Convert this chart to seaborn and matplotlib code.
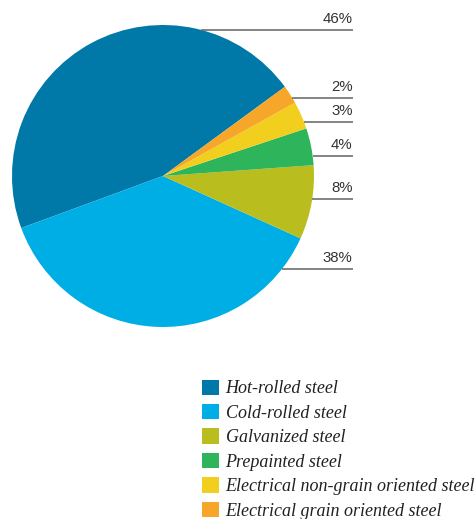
import matplotlib
matplotlib.use("Agg")
import matplotlib.pyplot as plt
import seaborn as sns
import numpy as np

categories = [
    "Hot-rolled steel",
    "Cold-rolled steel",
    "Galvanized steel",
    "Prepainted steel",
    "Electrical non-grain oriented steel",
    "Electrical grain oriented steel",
]
shares = [46, 38, 8, 4, 3, 2]
pct_labels = ["46%", "38%", "8%", "4%", "3%", "2%"]
colors = ["#0078A8", "#00AEE6", "#B9BD1E", "#2EB45A", "#F2CF1F", "#F6A628"]
# heights of the leader lines for each label (pie radius = 1)
label_heights = [0.967, -0.616, -0.154, 0.134, 0.358, 0.519]

sns.set_theme(style="white")

W, H, DPI = 476, 519, 100
fig = plt.figure(figsize=(W / DPI, H / DPI), dpi=DPI)
ax = fig.add_axes([0, 0, 1, 1])

# pie centre and radius in pixels
cx, cy, r = 163, 176, 151

wedges, _ = ax.pie(shares, colors=colors, startangle=36.2, counterclock=True,
                   radius=1, center=(0, 0), frame=True,
                   wedgeprops=dict(linewidth=0))
ax.set_xlim(-cx / r, (W - cx) / r)
ax.set_ylim(-(H - cy) / r, cy / r)
ax.set_aspect("auto")
ax.set_axis_off()

x_end = (352.7 - cx) / r
for lab, yh in zip(pct_labels, label_heights):
    x0 = np.sqrt(max(0.0, 1 - yh ** 2))
    ax.plot([x0, x_end], [yh, yh], color="#6e6e6e", lw=1.2, solid_capstyle="butt")
    ax.text(x_end, yh + 4.0 / r, lab, ha="right", va="bottom",
            fontsize=10.8, family="Liberation Sans", color="#333333")

fs = 13
fs_px = fs * DPI / 72
leg = fig.legend(wedges, categories, loc="upper left",
                 bbox_to_anchor=(202.3 / W, 1 - 379.5 / H),
                 bbox_transform=fig.transFigure,
                 frameon=False, borderpad=0, borderaxespad=0,
                 handlelength=17 / fs_px, handleheight=17 / fs_px,
                 handletextpad=6.2 / fs_px,
                 labelspacing=(24.6 - fs_px) / fs_px,
                 prop=dict(family="Liberation Serif", style="italic", size=fs))
for t in leg.get_texts():
    t.set_color("#231F20")

fig.savefig("out.png", dpi=DPI)
